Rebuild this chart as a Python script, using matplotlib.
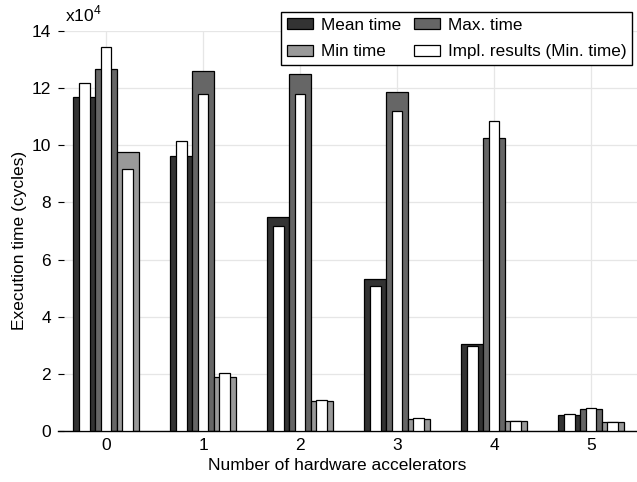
import matplotlib
matplotlib.use("Agg")
import matplotlib.pyplot as plt
from matplotlib.patches import Patch
import numpy as np

# ---- data (cycles) ----
groups = [0, 1, 2, 3, 4, 5]
mean_time = [117000, 96300, 75000, 53100, 30300, 5600]
mean_impl = [121700, 101400, 71900, 50900, 29800, 5900]
max_time = [126700, 126100, 124800, 118800, 102700, 7700]
max_impl = [134300, 118000, 117800, 112100, 108400, 7900]
min_time = [97500, 19000, 10400, 4200, 3500, 3000]
min_impl = [91600, 20200, 10800, 4400, 3500, 3300]
y_ticks = [0, 2, 4, 6, 8, 10, 12, 14]
legend_labels = ["Mean time", "Max. time", "Min time", "Impl. results (Min. time)"]

plt.rcParams['font.family'] = ['Liberation Sans', 'DejaVu Sans']
plt.rcParams['mathtext.fontset'] = 'custom'
plt.rcParams['mathtext.rm'] = 'Liberation Sans'

FS = 12.5
W, H = 637, 482
fig = plt.figure(figsize=(W / 100, H / 100), dpi=100)
ax = fig.add_axes([57.5 / W, 1 - 431 / H, 582 / W, 400 / H])

x = np.array(groups, dtype=float)
scale = 1e4
bw = 0.225
iw = 0.113
offs = [-0.225, 0.0, 0.225]
cols = ['#333333', '#666666', '#999999']
series = [(mean_time, mean_impl), (max_time, max_impl), (min_time, min_impl)]
for (main, impl), off, c in zip(series, offs, cols):
    ax.bar(x + off, np.array(main) / scale, width=bw, color=c,
           edgecolor='black', linewidth=0.9, zorder=2)
    ax.bar(x + off, np.array(impl) / scale, width=iw, color='white',
           edgecolor='black', linewidth=0.9, zorder=3)

ax.set_xlim(-0.5, 5.5)
ax.set_ylim(0, 14)
ax.set_xticks(x)
ax.set_xticklabels([str(g) for g in groups])
ax.set_yticks(y_ticks)
ax.set_yticklabels([str(t) for t in y_ticks])
ax.grid(True, color='#e6e6e6', linewidth=0.9, zorder=0)
ax.set_axisbelow(True)
for s in ['top', 'right', 'left']:
    ax.spines[s].set_visible(False)
ax.spines['bottom'].set_linewidth(1.0)
ax.tick_params(axis='both', direction='in', length=4, width=0.8,
               labelsize=FS, colors='black', pad=4.5)
ax.tick_params(axis='x', pad=5)

fig.text(336.7 / W, 1 - 466 / H, "Number of hardware accelerators",
         fontsize=FS, ha='center', va='center')
fig.text(20 / W, 1 - 240 / H, "Execution time (cycles)",
         fontsize=FS, ha='center', va='center', rotation=90)

fig.text(65 / W, 1 - 14 / H, r"x10$^{4}$", fontsize=FS, ha='left', va='center')

h_mean = Patch(facecolor=cols[0], edgecolor='black', linewidth=0.9)
h_max = Patch(facecolor=cols[1], edgecolor='black', linewidth=0.9)
h_min = Patch(facecolor=cols[2], edgecolor='black', linewidth=0.9)
h_impl = Patch(facecolor='white', edgecolor='black', linewidth=0.9)
leg = fig.legend([h_mean, h_min, h_max, h_impl],
                 [legend_labels[0], legend_labels[2], legend_labels[1], legend_labels[3]],
                 ncol=2, loc='upper left',
                 bbox_to_anchor=(281 / W, 1 - 12 / H), borderaxespad=0,
                 fontsize=12.3, frameon=True, fancybox=False, framealpha=1,
                 edgecolor='black', handlelength=1.55, handleheight=0.66,
                 handletextpad=0.45, columnspacing=0.75, labelspacing=0.68,
                 borderpad=0.33)
leg.get_frame().set_linewidth(1.0)

fig.savefig("out.png", dpi=100)
